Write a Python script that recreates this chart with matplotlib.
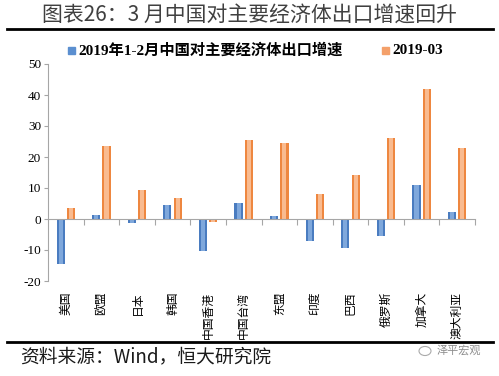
import matplotlib
matplotlib.use("Agg")
import matplotlib.pyplot as plt
import numpy as np
from matplotlib.transforms import blended_transform_factory

plt.rcParams['font.family'] = ['Liberation Serif', 'Noto Sans CJK SC', 'DejaVu Sans']

categories = ["美国", "欧盟", "日本", "韩国", "中国香港", "中国台湾", "东盟",
              "印度", "巴西", "俄罗斯", "加拿大", "澳大利亚"]
series_jan_feb = [-14.6, 1.3, -1.3, 4.4, -10.2, 5.2, 1.0, -7.2, -9.2, -5.4, 11.0, 2.2]
series_mar = [3.4, 23.7, 9.4, 6.7, -1.1, 25.4, 24.6, 8.0, 14.3, 26.1, 41.8, 22.9]
label_jan_feb = "2019年1-2月中国对主要经济体出口增速"
label_mar = "2019-03"
yticks = [-20, -10, 0, 10, 20, 30, 40, 50]

fig = plt.figure(figsize=(4.99, 3.76), dpi=100)
ax = fig.add_axes([48/499, 1-281/376, (475-48)/499, 217/376])

x = np.arange(len(categories))
w = 0.23
off = 0.145
blue_dark, blue_light = '#4A7CC0', '#7FA8DC'
orange_dark, orange_light = '#EE8740', '#F9BB90'
ax.bar(x - off, series_jan_feb, width=w, color=blue_dark, zorder=2)
ax.bar(x - off, series_jan_feb, width=w*0.5, color=blue_light, zorder=3)
ax.bar(x + off, series_mar, width=w, color=orange_dark, zorder=2)
ax.bar(x + off, series_mar, width=w*0.5, color=orange_light, zorder=3)

ax.set_xlim(-0.5, len(categories) - 0.5)
ax.set_ylim(-20, 50)
ax.set_yticks(yticks)
ax.set_yticklabels([str(t) for t in yticks], fontsize=9.5)
for s in ['top', 'right']:
    ax.spines[s].set_visible(False)
ax.spines['left'].set_color('#A6A6A6')
ax.spines['bottom'].set_color('#A6A6A6')
ax.spines['bottom'].set_position(('data', 0))
ax.spines['bottom'].set_zorder(4)
ax.tick_params(axis='y', length=3, color='#A6A6A6', pad=2)
ax.set_xticks(np.arange(0.5, len(categories), 1.0))
ax.set_xticklabels([])
ax.tick_params(axis='x', length=4, color='#A6A6A6', direction='out')

trans = blended_transform_factory(ax.transData, ax.transAxes)
for i, c in enumerate(categories):
    ax.text(i, -0.05, c, rotation=90, ha='center', va='top', fontsize=8.5,
            family=['Noto Sans CJK SC'], transform=trans)

# legend
fig.patches.append(plt.Rectangle((68/499, 1-54/376), 7/499, 7/376, color='#5B8FD0', transform=fig.transFigure))
fig.text(78/499, 1-50/376, label_jan_feb, fontsize=11, fontweight='bold', va='center', ha='left',
         family=['Liberation Serif', 'Noto Sans CJK SC'])
fig.patches.append(plt.Rectangle((382/499, 1-54/376), 7/499, 7/376, color='#F4A06A', transform=fig.transFigure))
fig.text(392/499, 1-50/376, label_mar, fontsize=11, fontweight='bold', va='center', ha='left')

# title and frame lines
fig.text(250/499, 1-15/376, "图表26：3 月中国对主要经济体出口增速回升", fontsize=15, ha='center', va='center',
         color='#404040', family=['Noto Sans CJK SC'])
fig.add_artist(plt.Line2D([7/499, 493/499], [1-29/376, 1-29/376], color='black', lw=2, transform=fig.transFigure))
fig.add_artist(plt.Line2D([7/499, 493/499], [1-342/376, 1-342/376], color='black', lw=2, transform=fig.transFigure))
fig.text(20/499, 1-357/376, "资料来源：Wind，恒大研究院", fontsize=13.5, ha='left', va='center',
         family=['Noto Sans CJK SC'], color='#1a1a1a')
fig.text(437/499, 1-350/376, "泽平宏观", fontsize=8, ha='left', va='center', color='#8C8C8C',
         family=['Noto Sans CJK SC'])
fig.patches.append(plt.Circle((425/499, 1-351/376), 6/499, fill=False, ec='#AAAAAA', lw=0.8,
                              transform=fig.transFigure))

fig.savefig("out.png", dpi=100)
